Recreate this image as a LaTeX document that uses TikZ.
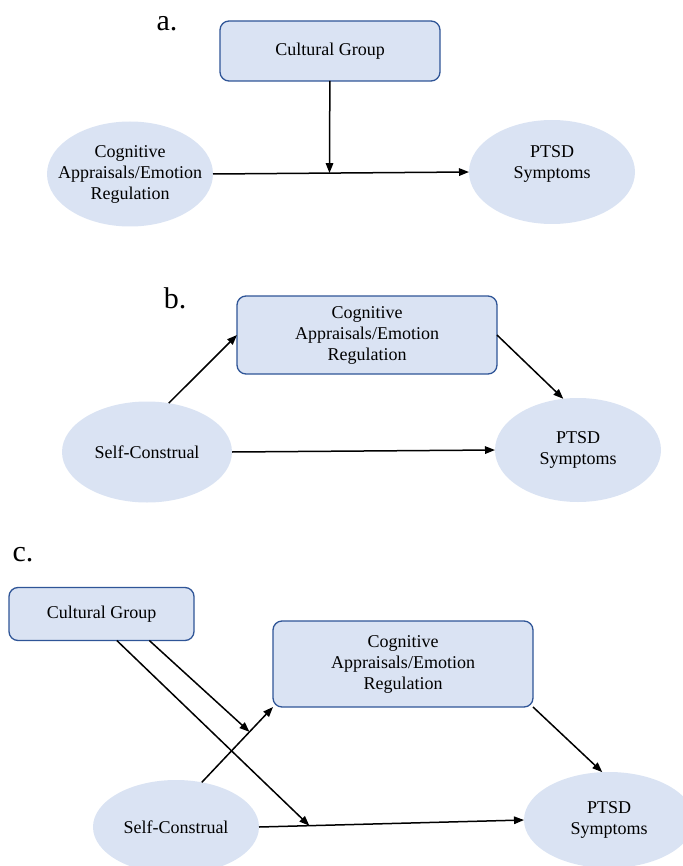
\documentclass[tikz,border=0pt]{standalone}
\usepackage{fontspec}
\setmainfont{Liberation Serif}
\usetikzlibrary{positioning}
\usetikzlibrary{shapes.geometric,arrows.meta}
\definecolor{boxfill}{RGB}{218,227,243}
\definecolor{boxline}{RGB}{47,85,151}
\newcommand{\panelsize}{\fontsize{30}{34}\selectfont}
\newcommand{\varsize}{\fontsize{18}{21}\selectfont}

\begin{document}
\begin{tikzpicture}[x=1pt, y=-1pt, outer sep=0pt]
\tikzstyle{factor}=[
    draw=boxline,
    line width=1.3pt,
    rectangle,
    rounded corners=9pt,
    fill=boxfill,
    align=center,
    font=\varsize,
    inner sep=0pt]
\tikzstyle{construct}=[
    ellipse,
    fill=boxfill,
    align=center,
    font=\varsize,
    inner sep=0pt]
\tikzstyle{varlabel}=[
    align=center,
    font=\varsize,
    inner sep=0pt]
\tikzstyle{panel}=[
    font=\panelsize,
    inner sep=0pt]
\tikzstyle{link}=[
    line width=1.5pt,
    -{Triangle[length=10pt,width=7.5pt]}]
\useasboundingbox (0,0) rectangle (682,866);

% a.
\node[panel] (labelA) at (167,24) {a.};
\node[factor, minimum width=220pt, minimum height=60pt] (cultA) at (330,51) {Cultural Group};
\node[construct, minimum width=166pt, minimum height=105pt,
    label={[varlabel]center:Cognitive\\Appraisals/Emotion\\Regulation}] (cogA) at (130,174) {};
\node[construct, minimum width=166pt, minimum height=104pt,
    label={[varlabel, yshift=8pt]center:PTSD\\Symptoms}] (ptsdA) at (552,172) {};
\draw[link] (cogA.east) -- coordinate[pos=0.455] (modA) (ptsdA.west);
\draw[link] (cultA) -- (modA);

% b.
\node[panel] (labelB) at (175,298) {b.};
\node[factor, minimum width=260pt, minimum height=78pt] (cogB) at (367,335) {Cognitive\\Appraisals/Emotion\\Regulation};
\node[construct, minimum width=170pt, minimum height=101pt] (selfB) at (147,452) {Self-Construal};
\node[construct, minimum width=166pt, minimum height=104pt] (ptsdB) at (578,450) {PTSD\\Symptoms};
\draw[link] (selfB.66) -- (cogB.west);
\draw[link] (cogB.east) -- (ptsdB.106);
\draw[link] (selfB.east) -- (ptsdB.west);

% c.
\node[panel] (labelC) at (23,555) {c.};
\node[factor, minimum width=185pt, minimum height=53pt] (cultC) at (101.5,614) {Cultural Group};
\node[factor, minimum width=260pt, minimum height=86pt] (cogC) at (403,664) {Cognitive\\Appraisals/Emotion\\Regulation};
\node[construct, minimum width=166pt, minimum height=94pt] (selfC) at (176,827) {Self-Construal};
\node[construct, minimum width=170pt, minimum height=96pt] (ptsdC) at (609,820) {PTSD\\Symptoms};
\draw[link] (selfC.60) -- coordinate[pos=0.67] (modC1) (cogC.south west);
\draw[link] (selfC.east) -- coordinate[pos=0.19] (modC2) (ptsdC.west);
\draw[link] (cogC.south east) -- (ptsdC.98);
\draw[link] (cultC.-29) -- (modC1);
\draw[link] (cultC.-60) -- (modC2);

\end{tikzpicture}
\end{document}
